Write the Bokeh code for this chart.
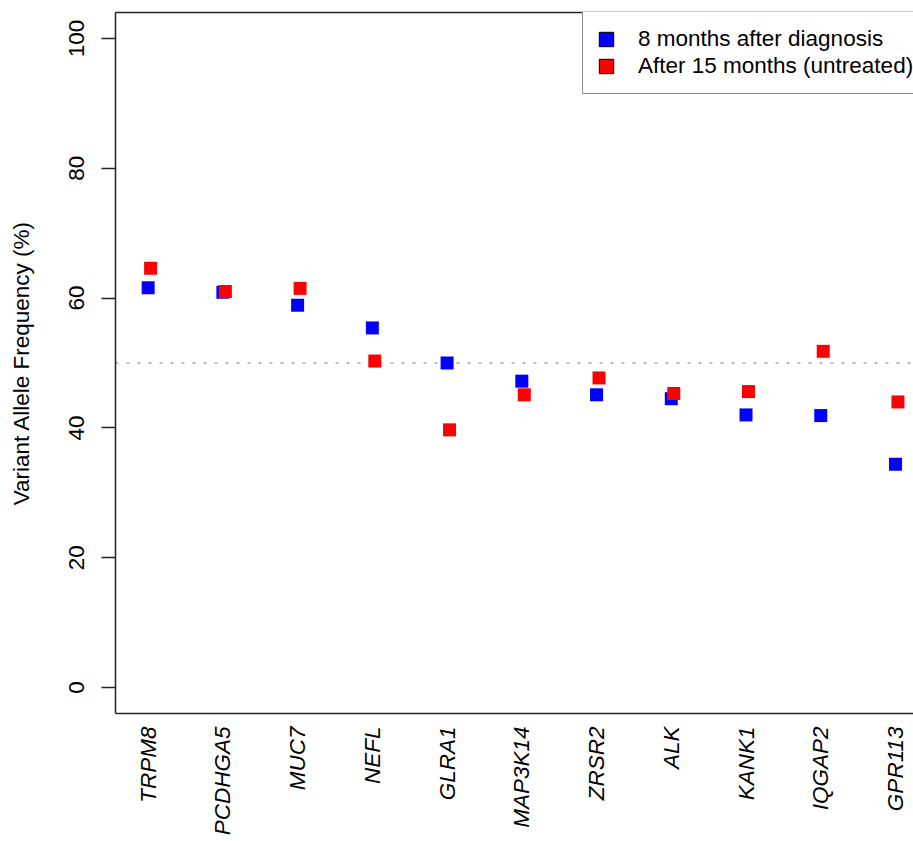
import math
import numpy as np
from bokeh.plotting import figure
from bokeh.models import (Range1d, FixedTicker, LinearAxis, Span, Legend,
                          LegendItem, ColumnDataSource)
from bokeh.embed import file_html
from bokeh.resources import INLINE

# ---- data -------------------------------------------------------------
genes = ["TRPM8", "PCDHGA5", "MUC7", "NEFL", "GLRA1", "MAP3K14",
         "ZRSR2", "ALK", "KANK1", "IQGAP2", "GPR113"]
vaf_8_months = [61.6, 60.9, 58.9, 55.4, 50.0, 47.2, 45.1, 44.5, 42.0, 41.9, 34.4]
vaf_15_months = [64.6, 61.0, 61.5, 50.3, 39.7, 45.1, 47.7, 45.3, 45.6, 51.8, 44.0]
y_ticks = [0, 20, 40, 60, 80, 100]
reference_vaf = 50
series_labels = ["8 months after diagnosis", "After 15 months (untreated)"]
y_axis_title = "Variant Allele Frequency (%)"

# ---- style ------------------------------------------------------------
FONT = "Liberation Sans"
FS = "22.5px"
BLUE = "#0000FF"
RED = "#FF0000"
LINE = "#222222"

pos = np.arange(1, len(genes) + 1)
dodge = 0.033

src_a = ColumnDataSource(dict(x=pos.astype(float), y=vaf_8_months))
src_b = ColumnDataSource(dict(x=pos + dodge, y=vaf_15_months))

p = figure(frame_width=798, frame_height=701,
           min_border_left=115, min_border_right=0,
           min_border_top=12, min_border_bottom=128,
           x_range=Range1d(0.563, 11.241), y_range=Range1d(-4, 104),
           x_axis_location=None, y_axis_location=None,
           output_backend="svg", toolbar_location=None)
p.outline_line_color = None
p.grid.visible = False
p.background_fill_color = "white"
p.border_fill_color = "white"

# y axis
yax = LinearAxis(ticker=FixedTicker(ticks=y_ticks), axis_label=y_axis_title)
yax.axis_line_color = LINE
yax.axis_line_width = 1.5
yax.major_tick_line_color = LINE
yax.major_tick_line_width = 1.5
yax.major_tick_out = 14
yax.major_tick_in = 0
yax.minor_tick_line_color = None
yax.major_label_orientation = "vertical"
yax.major_label_standoff = 17
yax.major_label_text_font = FONT
yax.major_label_text_font_size = FS
yax.major_label_text_color = "black"
yax.axis_label_text_font = FONT
yax.axis_label_text_font_size = FS
yax.axis_label_text_font_style = "normal"
yax.axis_label_text_color = "black"
yax.axis_label_standoff = 33
p.add_layout(yax, "left")

# x axis (gene names)
xax = LinearAxis(ticker=FixedTicker(ticks=[int(i) for i in pos]),
                 major_label_overrides={int(i): g for i, g in zip(pos, genes)})
xax.axis_line_color = LINE
xax.axis_line_width = 1.5
xax.major_tick_line_color = None
xax.major_tick_out = 0
xax.major_tick_in = 0
xax.minor_tick_line_color = None
xax.major_label_orientation = math.pi / 2
xax.major_label_standoff = 13
xax.major_label_text_font = FONT
xax.major_label_text_font_size = FS
xax.major_label_text_font_style = "italic"
xax.major_label_text_color = "black"
p.add_layout(xax, "below")

# top border line
tax = LinearAxis(ticker=FixedTicker(ticks=[]))
tax.axis_line_color = LINE
tax.axis_line_width = 1.5
tax.major_tick_out = 0
tax.major_tick_in = 0
tax.major_label_standoff = 0
tax.minor_tick_line_color = None
tax.major_tick_line_color = None
p.add_layout(tax, "above")

# reference line
p.add_layout(Span(location=reference_vaf, dimension="width", line_color="#BEBEBE",
                  line_width=2, line_dash="3 8", level="underlay"))

# points
p.scatter("x", "y", source=src_a, marker="square", size=13,
          fill_color=BLUE, line_color=None)
p.scatter("x", "y", source=src_b, marker="square", size=13,
          fill_color=RED, line_color=None)

# legend-only renderers (black outlined squares, not drawn in the frame)
hidden = ColumnDataSource(dict(x=[np.nan], y=[np.nan]))
lg_a = p.rect("x", "y", width=1, height=1, source=hidden, fill_color=BLUE,
              line_color="black", line_width=1)
lg_b = p.rect("x", "y", width=1, height=1, source=hidden, fill_color=RED,
              line_color="black", line_width=1)

legend = Legend(items=[LegendItem(label=series_labels[0], renderers=[lg_a]),
                       LegendItem(label=series_labels[1], renderers=[lg_b])],
                location=(467, 619), glyph_width=18, glyph_height=18,
                label_height=27, spacing=0, padding=14, label_standoff=23,
                margin=0,
                label_text_font=FONT, label_text_font_size=FS,
                label_text_color="black",
                border_line_color=LINE, border_line_width=1.5,
                background_fill_color="white", background_fill_alpha=1.0)
p.add_layout(legend, "center")

open("out.html", "w").write(file_html(p, INLINE))
